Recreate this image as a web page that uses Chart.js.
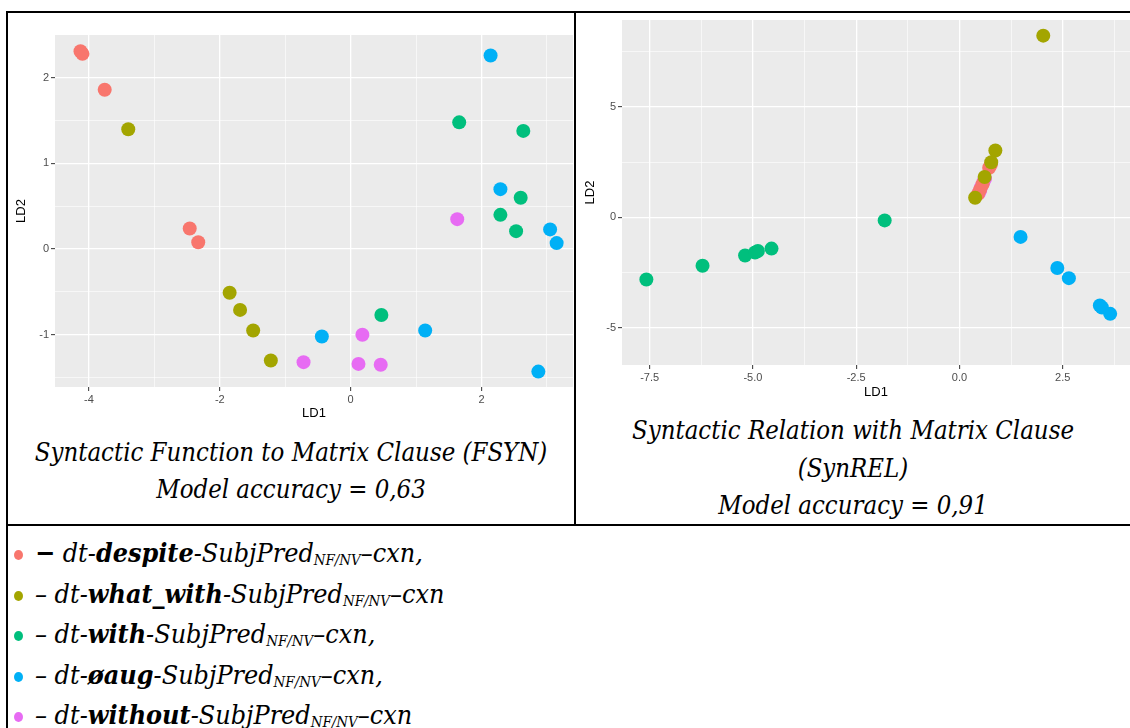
<!DOCTYPE html>
<html>
<head>
<meta charset="utf-8">
<script src="https://cdn.jsdelivr.net/npm/chart.js@4.4.1/dist/chart.umd.min.js"></script>
<style>
  body { margin: 0; width: 1130px; height: 728px; background: #fff; overflow: hidden; position: relative; }
  .line { position: absolute; background: #000; }
  canvas { position: absolute; }
  .cap, .legend { position: absolute; font-family: "DejaVu Serif Condensed", "DejaVu Serif", serif; font-style: italic; color: #000; }
  .cap { text-align: center; font-size: 25.5px; }
  .legend { left: 14px; top: 533px; font-size: 26.7px; white-space: nowrap; }
  .legend div { height: 40.5px; line-height: 40.5px; }
  .dot { display: inline-block; width: 9px; height: 10px; border-radius: 50%; margin-right: 12px; vertical-align: 2px; }
  .legend sub { font-size: 0.56em; line-height: 0; vertical-align: -0.2em; }
</style>
</head>
<body>
<div class="line" style="left:6px;top:11px;width:1124px;height:2px"></div>
<div class="line" style="left:6px;top:11px;width:2px;height:717px"></div>
<div class="line" style="left:574px;top:11px;width:2px;height:514px"></div>
<div class="line" style="left:6px;top:524px;width:1124px;height:2px"></div>

<canvas id="fsyn" width="566" height="412" style="left:8px;top:13px"></canvas>
<canvas id="synrel" width="554" height="397" style="left:576px;top:13px"></canvas>

<div class="cap" style="left:8px;width:566px;top:434px;line-height:37px">Syntactic Function to Matrix Clause (FSYN)<br>Model accuracy = 0,63</div>
<div class="cap" style="left:576px;width:554px;top:412px;line-height:37.5px">Syntactic Relation with Matrix Clause<br>(SynREL)<br>Model accuracy = 0,91</div>

<div class="legend" id="legend"></div>

<script>
// classes and ggplot default hue colours
const categories = ['despite', 'what_with', 'with', 'øaug', 'without'];
const colours = ['#F8766D', '#A3A500', '#00BF7D', '#00B0F6', '#E76BF3'];

// FSYN plot (LD1 / LD2)
const fsynX = [
  [-4.13, -4.10, -3.76, -2.46, -2.33],
  [-3.40, -1.85, -1.69, -1.49, -1.22],
  [1.66, 2.64, 2.60, 2.29, 2.53, 0.47],
  [2.14, 2.29, 3.05, 3.15, 2.87, 1.14, -0.44],
  [1.63, 0.18, 0.12, 0.46, -0.72]
];
const fsynY = [
  [2.31, 2.28, 1.86, 0.24, 0.08],
  [1.40, -0.51, -0.71, -0.95, -1.30],
  [1.48, 1.38, 0.60, 0.40, 0.21, -0.77],
  [2.26, 0.70, 0.23, 0.07, -1.43, -0.95, -1.02],
  [0.35, -1.00, -1.34, -1.35, -1.32]
];

// SynREL plot (LD1 / LD2)
const synrelX = [
  [0.45, 0.50, 0.56, 0.72, 0.76],
  [2.03, 0.87, 0.77, 0.61, 0.38],
  [-7.58, -6.22, -5.19, -4.95, -4.88, -4.55, -1.81],
  [1.48, 2.37, 2.65, 3.40, 3.45, 3.65],
  [0.47, 0.52, 0.58, 0.62, 0.50]
];
const synrelY = [
  [1.05, 1.25, 1.50, 2.25, 2.38],
  [8.24, 3.03, 2.50, 1.83, 0.89],
  [-2.82, -2.20, -1.73, -1.60, -1.53, -1.42, -0.14],
  [-0.89, -2.30, -2.76, -4.00, -4.09, -4.38],
  [1.10, 1.35, 1.60, 1.75, 1.20]
];

// axes: major ticks (labelled) and minor ticks (grid only)
const fsynXMajor = [-4, -2, 0, 2];
const fsynXMinor = [-3, -1, 1, 3];
const fsynYMajor = [-1, 0, 1, 2];
const fsynYMinor = [-1.5, -0.5, 0.5, 1.5];
const synrelXMajor = [-7.5, -5, -2.5, 0, 2.5];
const synrelXMinor = [-6.25, -3.75, -1.25, 1.25, 3.75];
const synrelYMajor = [-5, 0, 5];
const synrelYMinor = [-2.5, 2.5, 7.5];

Chart.defaults.font.family = '"Liberation Sans", Arial, sans-serif';

const panelBg = {
  id: 'panelBg',
  beforeDraw(chart) {
    const a = chart.chartArea;
    chart.ctx.save();
    chart.ctx.fillStyle = '#EBEBEB';
    chart.ctx.fillRect(a.left, a.top, a.right - a.left, a.bottom - a.top);
    chart.ctx.restore();
  }
};

function axis(major, minor, range, fmt, title, titlePad, size, horizontal) {
  const all = major.concat(minor).sort((a, b) => a - b);
  const isMajor = v => major.includes(v);
  return {
    type: 'linear',
    min: range[0],
    max: range[1],
    afterBuildTicks: s => { s.ticks = all.map(v => ({ value: v })); },
    afterFit: s => {
      if (horizontal) { s.height = size; s.paddingLeft = 0; s.paddingRight = 0; }
      else { s.width = size; s.paddingTop = 0; s.paddingBottom = 0; }
    },
    ticks: {
      autoSkip: false,
      maxRotation: 0,
      padding: 2,
      color: '#4D4D4D',
      font: { size: 11 },
      callback: v => isMajor(v) ? fmt(v) : ''
    },
    grid: {
      color: '#FFFFFF',
      lineWidth: c => isMajor(c.tick.value) ? 1.3 : 0.6,
      tickColor: c => isMajor(c.tick.value) ? '#333333' : 'rgba(0,0,0,0)',
      tickWidth: c => isMajor(c.tick.value) ? 1 : 0,
      tickLength: 4
    },
    border: { display: false },
    title: { display: true, text: title, color: '#000', font: { size: 13 }, padding: { top: titlePad, bottom: titlePad } }
  };
}

function makeChart(id, xs, ys, order, xAxis, yAxis, pad) {
  new Chart(document.getElementById(id), {
    type: 'scatter',
    data: {
      datasets: categories.map((c, k) => ({
        label: c,
        data: xs[k].map((x, i) => ({ x: x, y: ys[k][i] })),
        backgroundColor: colours[k],
        borderWidth: 0,
        pointRadius: 7,
        pointHoverRadius: 7,
        order: order[k]
      }))
    },
    options: {
      responsive: false,
      animation: false,
      layout: { padding: pad, autoPadding: false },
      plugins: { legend: { display: false }, tooltip: { enabled: false } },
      scales: { x: xAxis, y: yAxis }
    },
    plugins: [panelBg]
  });
}

const intFmt = v => String(v);
const oneDec = v => v.toFixed(1);

makeChart('fsyn', fsynX, fsynY, [0, 1, 2, 3, 4],
  axis(fsynXMajor, fsynXMinor, [-4.52, 3.40], intFmt, 'LD1', 4, 38, true),
  axis(fsynYMajor, fsynYMinor, [-1.61, 2.50], intFmt, 'LD2', 6, 47, false),
  { top: 22, right: 1, left: 0, bottom: 0 });

makeChart('synrel', synrelX, synrelY, [1, 0, 2, 3, 4],
  axis(synrelXMajor, synrelXMinor, [-8.17, 4.13], oneDec, 'LD1', 10, 45, true),
  axis(synrelYMajor, synrelYMinor, [-6.7, 8.95], intFmt, 'LD2', 7, 46, false),
  { top: 7, right: 0, left: 0, bottom: 0 });

// legend rows built from the categories
document.getElementById('legend').innerHTML = categories.map((c, k) =>
  '<div><span class="dot" style="background:' + colours[k] + '"></span>' +
  (k === 0 ? '<b>−</b>' : '–') + ' dt-<b>' + c + '</b>-SubjPred<sub>NF/NV</sub>–cxn' +
  (k === 1 || k === 4 ? '' : ',') + '</div>'
).join('');
</script>
</body>
</html>
